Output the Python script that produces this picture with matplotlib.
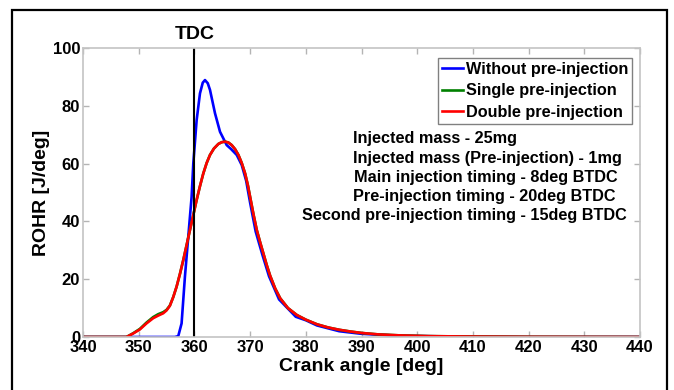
import matplotlib
matplotlib.use("Agg")
import matplotlib.pyplot as plt
from matplotlib.patches import Rectangle

# values
crank_without = [340, 356.5, 357.1, 357.7, 358.3, 358.9, 359.5, 359.8, 360.4, 361.0,
                 361.5, 361.9, 362.4, 362.8, 363.7, 364.6, 365.8, 366.6, 367.6, 368.5,
                 369.3, 370.0, 371.0, 372.2, 373.4, 375.2, 378.2, 380, 382, 386,
                 390, 397, 405, 410, 420, 440]
rohr_without = [0, 0, 0.3, 4.7, 20.9, 34.7, 48.5, 60, 75, 84.3,
                88, 88.9, 87.8, 85.5, 77.4, 71, 66.4, 65, 63, 59.5,
                54, 46.5, 36.5, 28.5, 21, 13, 7, 5.8, 4.0, 2.0,
                1.1, 0.4, 0.2, 0.1, 0, 0]

crank_pre = [340, 347.8, 349, 350.2, 351.4, 352.6, 353.5, 354.4, 355.0, 355.6,
             356.2, 356.8, 357.4, 358.0, 358.6, 359.2, 359.8, 360.4, 361.0, 361.6,
             362.2, 362.8, 363.5, 364.3, 364.9, 365.5, 366.1, 366.7, 367.3, 367.9,
             368.5, 369.1, 369.6, 370.0, 370.6, 371.2, 371.8, 372.4, 373.0, 373.6,
             374.5, 375.4, 376.8, 378.4, 380, 382, 384, 386, 388, 390,
             393, 397, 402, 410, 420, 430, 440]
rohr_single = [0, 0, 1.3, 2.8, 5.0, 6.9, 7.9, 8.6, 9.4, 10.9,
               13.8, 17.4, 21.8, 26.6, 31.8, 37, 42.2, 47.4, 52.2, 56.6,
               60.2, 63, 65.2, 66.8, 67.4, 67.6, 67.3, 66.4, 65, 63,
               60.2, 56.6, 52.5, 48.5, 42.5, 37, 32.8, 28.8, 24.8, 21.2,
               16.8, 13.4, 10, 7.6, 6.0, 4.4, 3.3, 2.5, 1.9, 1.4,
               0.9, 0.55, 0.3, 0.15, 0.05, 0.02, 0]
rohr_double = [0, 0, 1.2, 2.6, 4.7, 6.5, 7.4, 8.2, 9.2, 10.8,
               13.8, 17.4, 21.8, 26.6, 31.8, 37, 42.2, 47.4, 52.2, 56.6,
               60.2, 63, 65.2, 66.8, 67.4, 67.6, 67.3, 66.4, 65, 63,
               60.2, 56.6, 52.5, 48.5, 42.5, 37, 32.8, 28.8, 24.8, 21.2,
               16.8, 13.4, 10, 7.6, 6.0, 4.4, 3.3, 2.5, 1.9, 1.4,
               0.9, 0.55, 0.3, 0.15, 0.05, 0.02, 0]

series_labels = ["Without pre-injection", "Single pre-injection", "Double pre-injection"]
x_ticks = list(range(340, 441, 10))
y_ticks = list(range(0, 101, 20))
tdc_angle = 360

notes = [
    "Injected mass - 25mg",
    "Injected mass (Pre-injection) - 1mg",
    "Main injection timing - 8deg BTDC",
    "Pre-injection timing - 20deg BTDC",
    "Second pre-injection timing - 15deg BTDC",
]

plt.rcParams.update({
    "font.family": ["Liberation Sans", "DejaVu Sans"],
    "font.weight": "bold",
})

W, H = 674, 390
fig = plt.figure(figsize=(W / 100, H / 100), dpi=100)
ax = fig.add_axes([83 / W, 1 - 337 / H, (640 - 83) / W, (337 - 48) / H])

lw = 1.9
ax.plot(crank_without, rohr_without, color="#0000ff", lw=lw, label=series_labels[0])
ax.plot(crank_pre, rohr_single, color="#008000", lw=lw, label=series_labels[1])
ax.plot(crank_pre, rohr_double, color="#ff0000", lw=lw, label=series_labels[2])
ax.axvline(tdc_angle, color="black", lw=1.5)

ax.set_xlim(340, 440)
ax.set_ylim(0, 100)
ax.set_xticks(x_ticks)
ax.set_yticks(y_ticks)
ax.tick_params(direction="in", length=4, width=1, color="#b4b4b4",
               top=True, right=True, labelsize=12, pad=2)
for lab in ax.get_xticklabels() + ax.get_yticklabels():
    lab.set_fontweight("bold")
for s in ax.spines.values():
    s.set_color("#c4c4c4")
    s.set_linewidth(1.2)

ax.set_xlabel("Crank angle [deg]", fontsize=14, fontweight="bold")
ax.xaxis.set_label_coords(0.5, -0.072)
ax.set_ylabel("ROHR [J/deg]", fontsize=14, fontweight="bold")
ax.yaxis.set_label_coords(-0.06, 0.5)

ax.text(tdc_angle, 104.8, "TDC", ha="center", va="center", fontsize=14,
        fontweight="bold", clip_on=False)

leg = ax.legend(loc="upper right", bbox_to_anchor=(0.986, 0.965), borderaxespad=0,
                fontsize=11.7, handlelength=1.3, handletextpad=0.15,
                labelspacing=0.38, borderpad=0.25, fancybox=False, framealpha=1,
                edgecolor="#808080")
leg.get_frame().set_linewidth(1)
for t in leg.get_texts():
    t.set_fontweight("bold")

note_x = [0.4847, 0.4847, 0.4865, 0.4847, 0.393]
note_y = [0.6875, 0.6183, 0.5512, 0.4854, 0.4197]
for nx, ny, txt in zip(note_x, note_y, notes):
    ax.text(nx, ny, txt, transform=ax.transAxes, ha="left", va="center",
            fontsize=11.7, fontweight="bold")

fig.patches.append(Rectangle((12 / W, -0.1), (667 - 12) / W, 1.1 - 10 / H,
                             transform=fig.transFigure, fill=False,
                             edgecolor="black", lw=1.6))

fig.savefig("out.png", dpi=100)
